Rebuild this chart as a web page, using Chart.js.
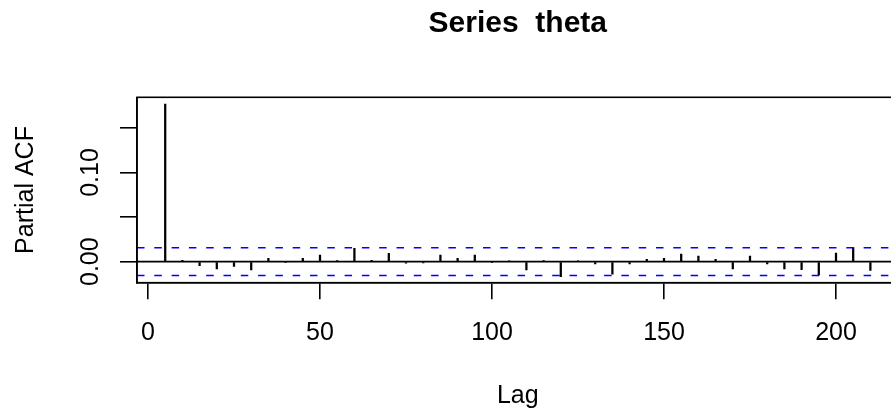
<!DOCTYPE html>
<html>
<head>
<meta charset="utf-8">
<title>Series theta</title>
<script src="https://cdn.jsdelivr.net/npm/chart.js@4.4.1/dist/chart.umd.min.js"></script>
<style>
  html, body { margin: 0; padding: 0; background: #fff; overflow: hidden; }
  canvas { display: block; }
</style>
</head>
<body>
<canvas id="pacfChart" width="920" height="412"></canvas>
<script>
// lags and partial autocorrelations
const lags = [5, 10, 15, 20, 25, 30, 35, 40, 45, 50, 55, 60, 65, 70, 75, 80, 85, 90, 95, 100,
  105, 110, 115, 120, 125, 130, 135, 140, 145, 150, 155, 160, 165, 170, 175, 180, 185, 190, 195, 200,
  205, 210];
const pacf = [0.1767, 0.0015, -0.0045, -0.0082, -0.0052, -0.0094, 0.0037, -0.0010, 0.0037, 0.0075,
  0.0012, 0.0150, 0.0015, 0.0094, -0.0018, -0.0015, 0.0075, 0.0037, 0.0075, -0.0005,
  0.0004, -0.0094, 0.0012, -0.0169, 0.0005, -0.0026, -0.0139, -0.0026, 0.0026, 0.0037,
  0.0086, 0.0064, 0.0026, -0.0082, 0.0064, -0.0026, -0.0082, -0.0090, -0.0150, 0.0095,
  0.0158, -0.0098];
const ciLimit = 0.0156;

const xTicks = [0, 50, 100, 150, 200];
const yTicks = [0, 0.05, 0.10, 0.15];
const yTickLabels = ["0.00", "0.10"];
const yLabelValues = [0, 0.10];

// R style axis range: data range plus 4% each side
const xRange = [lags[0] - 0.04 * (lags[lags.length - 1] - lags[0]),
  lags[lags.length - 1] + 0.04 * (lags[lags.length - 1] - lags[0])];
const yRange = [-0.0236, 0.1844];

const FONT = "'Liberation Sans', Arial, Helvetica, sans-serif";

const boxPlugin = {
  id: "rbox",
  afterDraw(chart) {
    const ctx = chart.ctx;
    const a = chart.chartArea;
    ctx.save();
    ctx.strokeStyle = "#000";
    ctx.lineWidth = 1.6;
    ctx.strokeRect(a.left, a.top, a.right - a.left, a.bottom - a.top);
    // rotated y tick labels, like R's las = 0
    const ys = chart.scales.y;
    ctx.fillStyle = "#000";
    ctx.font = "25px " + FONT;
    ctx.textAlign = "center";
    ctx.textBaseline = "alphabetic";
    yLabelValues.forEach(function(v, i) {
      ctx.save();
      ctx.translate(98, ys.getPixelForValue(v));
      ctx.rotate(-Math.PI / 2);
      ctx.fillText(yTickLabels[i], 0, 0);
      ctx.restore();
    });
    ctx.restore();
  }
};

const ctx = document.getElementById("pacfChart").getContext("2d");
new Chart(ctx, {
  type: "bar",
  data: {
    datasets: [
      {
        type: "line",
        data: [{ x: xRange[0], y: ciLimit }, { x: xRange[1], y: ciLimit }],
        borderColor: "#0000FF",
        borderWidth: 1.6,
        borderDash: [7.5, 9.8],
        pointRadius: 0
      },
      {
        type: "line",
        data: [{ x: xRange[0], y: -ciLimit }, { x: xRange[1], y: -ciLimit }],
        borderColor: "#0000FF",
        borderWidth: 1.6,
        borderDash: [7.5, 9.8],
        pointRadius: 0
      },
      {
        type: "line",
        data: [{ x: xRange[0], y: 0 }, { x: xRange[1], y: 0 }],
        borderColor: "#000",
        borderWidth: 1.6,
        pointRadius: 0
      },
      {
        label: "PACF",
        data: lags.map(function(l, i) { return { x: l, y: pacf[i] }; }),
        backgroundColor: "#000",
        barThickness: 1.6
      }
    ]
  },
  options: {
    responsive: false,
    animation: false,
    layout: { padding: { left: 0, right: 21.4, top: 0, bottom: 0 } },
    plugins: {
      legend: { display: false },
      tooltip: { enabled: false },
      title: {
        display: true,
        text: "Series  theta",
        fullSize: false,
        color: "#000",
        font: { family: FONT, size: 30, weight: "bold", lineHeight: 1 },
        padding: { top: 8.7, bottom: 58.6 }
      }
    },
    scales: {
      x: {
        type: "linear",
        offset: false,
        min: xRange[0],
        max: xRange[1],
        afterBuildTicks: function(s) { s.ticks = xTicks.map(function(v) { return { value: v }; }); },
        afterFit: function(s) { s.height = 129.3; },
        grid: { display: true, offset: false, drawOnChartArea: false, drawTicks: true, tickLength: 16.5, color: "#000", lineWidth: 1.6 },
        border: { display: true, color: "#000", width: 1.6 },
        ticks: { color: "#000", padding: 19, maxRotation: 0, font: { family: FONT, size: 25 } },
        title: {
          display: true,
          text: "Lag",
          color: "#000",
          font: { family: FONT, size: 25, lineHeight: 1 },
          padding: { top: 0, bottom: 3.2 }
        }
      },
      y: {
        min: yRange[0],
        max: yRange[1],
        afterBuildTicks: function(s) { s.ticks = yTicks.map(function(v) { return { value: v }; }); },
        afterFit: function(s) { s.width = 137; },
        grid: { display: true, drawOnChartArea: false, drawTicks: true, tickLength: 17, color: "#000", lineWidth: 1.6 },
        border: { display: true, color: "#000", width: 1.6 },
        ticks: { display: false },
        title: {
          display: true,
          text: "Partial ACF",
          color: "#000",
          font: { family: FONT, size: 25, lineHeight: 1 },
          padding: { top: 13.5, bottom: 0 }
        }
      }
    }
  },
  plugins: [boxPlugin]
});
</script>
</body>
</html>
